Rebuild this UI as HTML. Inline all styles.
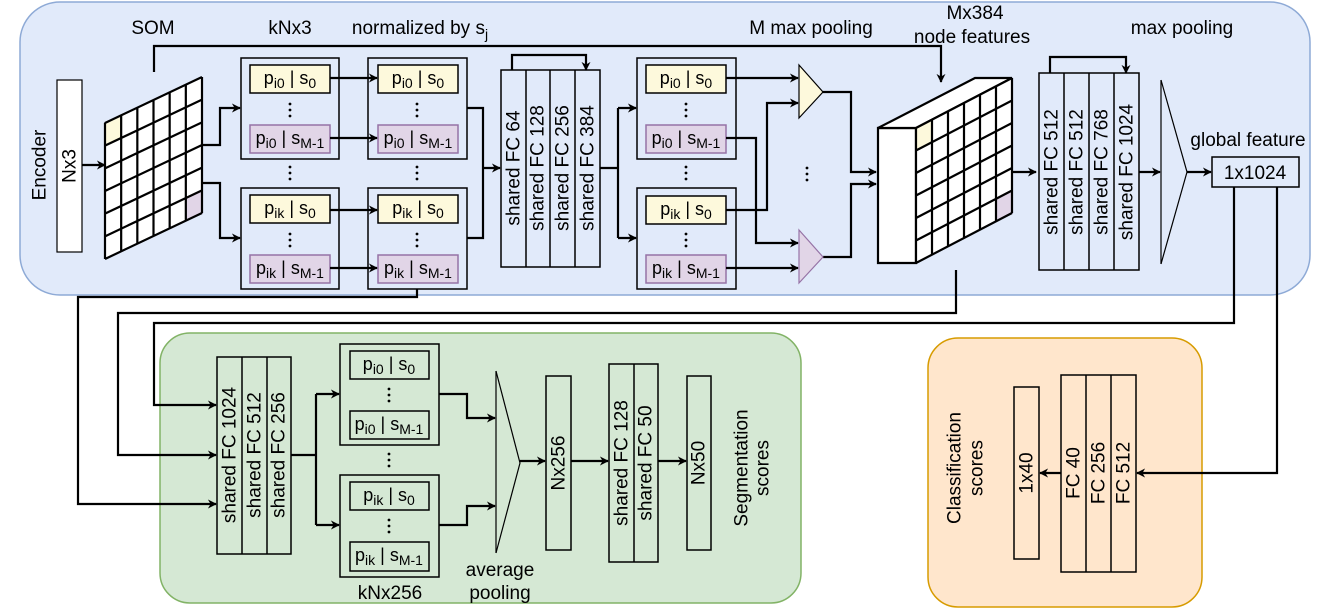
<!DOCTYPE html>
<html><head><meta charset="utf-8"><style>
html,body{margin:0;padding:0;background:#fff}
svg{display:block}
text{font-family:"Liberation Sans",Arial,sans-serif;fill:#000}
</style></head><body>
<svg width="1329" height="609" viewBox="0 0 1329 609" xmlns="http://www.w3.org/2000/svg">
<defs>
<marker id="a" viewBox="0 0 10 10" refX="9" refY="5" markerWidth="9" markerHeight="9" markerUnits="userSpaceOnUse" orient="auto">
<path d="M0,0 L10,5 L0,10 L3,5 z" fill="#000"/></marker>
</defs>
<rect x="20" y="2" width="1290" height="293" rx="40" fill="#e1eafa" stroke="#8eaad6" stroke-width="1.5"/>
<rect x="160" y="333" width="641" height="270" rx="30" fill="#d5e8d4" stroke="#82b366" stroke-width="1.5"/>
<rect x="928" y="338" width="274" height="269" rx="30" fill="#ffe6cc" stroke="#d79b00" stroke-width="1.5"/>

<g font-size="19">
<text x="153" y="34" text-anchor="middle">SOM</text>
<text x="290" y="34" text-anchor="middle">kNx3</text>
<text x="420" y="34" text-anchor="middle">normalized by s<tspan dy="5" font-size="14">j</tspan></text>
<text x="811" y="34" text-anchor="middle">M max pooling</text>
<text x="975" y="19" text-anchor="middle">Mx384</text>
<text x="972" y="43" text-anchor="middle">node features</text>
<text x="1182" y="34" text-anchor="middle">max pooling</text>
<text x="1248" y="146" text-anchor="middle">global feature</text>
<text transform="translate(40,165) rotate(-90)" text-anchor="middle" dominant-baseline="central">Encoder</text>
</g>

<g fill="none" stroke="#000" stroke-width="2.2">
<rect x="57" y="80" width="25" height="172" fill="#fff" stroke-width="1.2"/>
<line x1="82" y1="165" x2="105" y2="165" marker-end="url(#a)"/>
<polyline points="154,72 154,46 941,46 941,82" marker-end="url(#a)"/>
</g>
<text transform="translate(70,166) rotate(-90)" text-anchor="middle" dominant-baseline="central" font-size="19">Nx3</text>

<g transform="matrix(97,-46,0,136,105,123)">
<polygon points="0,0 1,0 1,1 0,1" fill="#fff"/>
<polygon points="0,0 0.1667,0 0.1667,0.1667 0,0.1667" fill="#fdf9dc" stroke="#000" stroke-width="1.5" vector-effect="non-scaling-stroke"/>
<polygon points="0.8333,0.8333 1,0.8333 1,1 0.8333,1" fill="#e1d5e7" stroke="#9673a6" stroke-width="1.5" vector-effect="non-scaling-stroke"/>
<path vector-effect="non-scaling-stroke" stroke="#000" stroke-width="2.2" fill="none" d="M0,0V1M0.1667,0V1M0.3333,0V1M0.5,0V1M0.6667,0V1M0.8333,0V1M1,0V1M0,0H1M0,0.1667H1M0,0.3333H1M0,0.5H1M0,0.6667H1M0,0.8333H1M0,1H1"/>
</g>

<g stroke="#000" stroke-width="1.5">
<rect x="241" y="58" width="98" height="101" fill="none"/>
<rect x="241" y="188" width="98" height="101" fill="none"/>
<rect x="368" y="58" width="99" height="101" fill="none"/>
<rect x="368" y="188" width="99" height="101" fill="none"/>
<rect x="637" y="58" width="99" height="101" fill="none"/>
<rect x="637" y="188" width="99" height="101" fill="none"/>
</g>
<g stroke-width="1.5">
<rect x="250" y="65" width="80" height="28" fill="#fdf9dc" stroke="#000"/>
<rect x="250" y="125" width="80" height="28" fill="#e1d5e7" stroke="#9673a6"/>
<rect x="250" y="195" width="80" height="28" fill="#fdf9dc" stroke="#000"/>
<rect x="250" y="255" width="80" height="28" fill="#e1d5e7" stroke="#9673a6"/>
<rect x="378" y="65" width="80" height="28" fill="#fdf9dc" stroke="#000"/>
<rect x="378" y="125" width="80" height="28" fill="#e1d5e7" stroke="#9673a6"/>
<rect x="378" y="195" width="80" height="28" fill="#fdf9dc" stroke="#000"/>
<rect x="378" y="255" width="80" height="28" fill="#e1d5e7" stroke="#9673a6"/>
<rect x="646" y="65" width="80" height="28" fill="#fdf9dc" stroke="#000"/>
<rect x="646" y="125" width="80" height="28" fill="#e1d5e7" stroke="#9673a6"/>
<rect x="646" y="196" width="80" height="28" fill="#fdf9dc" stroke="#000"/>
<rect x="646" y="255" width="80" height="28" fill="#e1d5e7" stroke="#9673a6"/>
</g>
<g font-size="18" text-anchor="middle">
<text x="290" y="84">p<tspan dy="4" font-size="14">i0</tspan><tspan dy="-4"> | s</tspan><tspan dy="4" font-size="14">0</tspan></text>
<text x="290" y="144">p<tspan dy="4" font-size="14">i0</tspan><tspan dy="-4"> | s</tspan><tspan dy="4" font-size="14">M-1</tspan></text>
<text x="290" y="214">p<tspan dy="4" font-size="14">ik</tspan><tspan dy="-4"> | s</tspan><tspan dy="4" font-size="14">0</tspan></text>
<text x="290" y="274">p<tspan dy="4" font-size="14">ik</tspan><tspan dy="-4"> | s</tspan><tspan dy="4" font-size="14">M-1</tspan></text>
<text x="418" y="84">p<tspan dy="4" font-size="14">i0</tspan><tspan dy="-4"> | s</tspan><tspan dy="4" font-size="14">0</tspan></text>
<text x="418" y="144">p<tspan dy="4" font-size="14">i0</tspan><tspan dy="-4"> | s</tspan><tspan dy="4" font-size="14">M-1</tspan></text>
<text x="418" y="214">p<tspan dy="4" font-size="14">ik</tspan><tspan dy="-4"> | s</tspan><tspan dy="4" font-size="14">0</tspan></text>
<text x="418" y="274">p<tspan dy="4" font-size="14">ik</tspan><tspan dy="-4"> | s</tspan><tspan dy="4" font-size="14">M-1</tspan></text>
<text x="686" y="84">p<tspan dy="4" font-size="14">i0</tspan><tspan dy="-4"> | s</tspan><tspan dy="4" font-size="14">0</tspan></text>
<text x="686" y="144">p<tspan dy="4" font-size="14">i0</tspan><tspan dy="-4"> | s</tspan><tspan dy="4" font-size="14">M-1</tspan></text>
<text x="686" y="215">p<tspan dy="4" font-size="14">ik</tspan><tspan dy="-4"> | s</tspan><tspan dy="4" font-size="14">0</tspan></text>
<text x="686" y="274">p<tspan dy="4" font-size="14">ik</tspan><tspan dy="-4"> | s</tspan><tspan dy="4" font-size="14">M-1</tspan></text>
</g>
<g fill="#000">
<circle cx="290" cy="104" r="1.4"/><circle cx="290" cy="110" r="1.4"/><circle cx="290" cy="116" r="1.4"/>
<circle cx="290" cy="234" r="1.4"/><circle cx="290" cy="240" r="1.4"/><circle cx="290" cy="246" r="1.4"/>
<circle cx="290" cy="167" r="1.4"/><circle cx="290" cy="173" r="1.4"/><circle cx="290" cy="179" r="1.4"/>
<circle cx="417" cy="104" r="1.4"/><circle cx="417" cy="110" r="1.4"/><circle cx="417" cy="116" r="1.4"/>
<circle cx="417" cy="234" r="1.4"/><circle cx="417" cy="240" r="1.4"/><circle cx="417" cy="246" r="1.4"/>
<circle cx="417" cy="167" r="1.4"/><circle cx="417" cy="173" r="1.4"/><circle cx="417" cy="179" r="1.4"/>
<circle cx="686" cy="104" r="1.4"/><circle cx="686" cy="110" r="1.4"/><circle cx="686" cy="116" r="1.4"/>
<circle cx="686" cy="234" r="1.4"/><circle cx="686" cy="240" r="1.4"/><circle cx="686" cy="246" r="1.4"/>
<circle cx="686" cy="167" r="1.4"/><circle cx="686" cy="173" r="1.4"/><circle cx="686" cy="179" r="1.4"/>
<circle cx="807" cy="168" r="1.4"/><circle cx="807" cy="174" r="1.4"/><circle cx="807" cy="180" r="1.4"/>
</g>

<g fill="none" stroke="#000" stroke-width="2.2">
<polyline points="202,145 220,145 220,108 240,108" marker-end="url(#a)"/>
<polyline points="202,183 220,183 220,238 240,238" marker-end="url(#a)"/>
<line x1="330" y1="78" x2="377" y2="78" marker-end="url(#a)"/>
<line x1="330" y1="138" x2="377" y2="138" marker-end="url(#a)"/>
<line x1="330" y1="210" x2="377" y2="210" marker-end="url(#a)"/>
<line x1="330" y1="268" x2="377" y2="268" marker-end="url(#a)"/>
<polyline points="467,108 483,108 483,238 467,238"/>
<line x1="483" y1="168" x2="500" y2="168" marker-end="url(#a)"/>
<polyline points="512,70 512,55 586,55 586,70" marker-end="url(#a)"/>
<line x1="600" y1="168" x2="618" y2="168"/>
<polyline points="618,108 618,238"/>
<line x1="618" y1="108" x2="636" y2="108" marker-end="url(#a)"/>
<line x1="618" y1="238" x2="636" y2="238" marker-end="url(#a)"/>
<line x1="726" y1="78" x2="798" y2="78" marker-end="url(#a)"/>
<polyline points="726,210 767,210 767,103 798,103" marker-end="url(#a)"/>
<polyline points="726,138 756,138 756,243 798,243" marker-end="url(#a)"/>
<line x1="726" y1="268" x2="798" y2="268" marker-end="url(#a)"/>
<polyline points="823,92 851,92 851,172 876,172" marker-end="url(#a)"/>
<polyline points="823,257 851,257 851,184 876,184" marker-end="url(#a)"/>
<line x1="1012" y1="172" x2="1036" y2="172" marker-end="url(#a)"/>
<polyline points="1050,73 1050,57 1126,57 1126,73" marker-end="url(#a)"/>
<line x1="1139" y1="172" x2="1160" y2="172" marker-end="url(#a)"/>
<line x1="1187" y1="172" x2="1211" y2="172" marker-end="url(#a)"/>
<polyline points="417,289 417,297 78,297 78,504 216,504" marker-end="url(#a)"/>
<polyline points="956,270 956,313 118,313 118,455 216,455" marker-end="url(#a)"/>
<polyline points="1234,187 1234,323 154,323 154,405 216,405" marker-end="url(#a)"/>
<polyline points="1277,187 1277,473 1137,473" marker-end="url(#a)"/>
</g>

<g stroke="#000" stroke-width="1.5" fill="none">
<rect x="501" y="70" width="99" height="197"/>
<line x1="526" y1="70" x2="526" y2="267"/><line x1="550" y1="70" x2="550" y2="267"/><line x1="575" y1="70" x2="575" y2="267"/>
</g>
<g font-size="19" text-anchor="middle" dominant-baseline="central">
<text transform="translate(514,168) rotate(-90)">shared FC 64</text>
<text transform="translate(538,168) rotate(-90)">shared FC 128</text>
<text transform="translate(563,168) rotate(-90)">shared FC 256</text>
<text transform="translate(588,168) rotate(-90)">shared FC 384</text>
</g>

<polygon points="799,65 823,92 799,118" fill="#fdf9dc" stroke="#000" stroke-width="1.2"/>
<polygon points="799,230 823,257 799,283" fill="#e1d5e7" stroke="#9673a6" stroke-width="1.2"/>

<polygon points="878,128 916,128 916,263 878,263" fill="#fff" stroke="#000" stroke-width="2.2"/>
<polygon points="878,128 975,78 1012,78 916,128" fill="#fff" stroke="#000" stroke-width="2.2"/>
<g transform="matrix(96,-50,0,135,916,128)">
<polygon points="0,0 1,0 1,1 0,1" fill="#fff"/>
<polygon points="0,0 0.1667,0 0.1667,0.1667 0,0.1667" fill="#fdf9dc" stroke="#000" stroke-width="1.5" vector-effect="non-scaling-stroke"/>
<polygon points="0.8333,0.8333 1,0.8333 1,1 0.8333,1" fill="#e1d5e7" stroke="#9673a6" stroke-width="1.5" vector-effect="non-scaling-stroke"/>
<path vector-effect="non-scaling-stroke" stroke="#000" stroke-width="2.2" fill="none" d="M0,0V1M0.1667,0V1M0.3333,0V1M0.5,0V1M0.6667,0V1M0.8333,0V1M1,0V1M0,0H1M0,0.1667H1M0,0.3333H1M0,0.5H1M0,0.6667H1M0,0.8333H1M0,1H1"/>
</g>

<g stroke="#000" stroke-width="1.5" fill="none">
<rect x="1039" y="73" width="100" height="197"/>
<line x1="1064" y1="73" x2="1064" y2="270"/><line x1="1089" y1="73" x2="1089" y2="270"/><line x1="1114" y1="73" x2="1114" y2="270"/>
</g>
<g font-size="19" text-anchor="middle" dominant-baseline="central">
<text transform="translate(1052,172) rotate(-90)">shared FC 512</text>
<text transform="translate(1077,172) rotate(-90)">shared FC 512</text>
<text transform="translate(1102,172) rotate(-90)">shared FC 768</text>
<text transform="translate(1127,172) rotate(-90)">shared FC 1024</text>
</g>
<polyline points="1161,80 1187,172 1161,264" fill="none" stroke="#000" stroke-width="1.2"/>
<line x1="1161" y1="80" x2="1161" y2="264" stroke="#000" stroke-width="1.2"/>
<rect x="1212" y="157" width="87" height="30" fill="none" stroke="#000" stroke-width="1.5"/>
<text x="1255" y="179" font-size="19" text-anchor="middle">1x1024</text>

<g stroke="#000" stroke-width="1.5" fill="none">
<rect x="217" y="357" width="74" height="197"/>
<line x1="242" y1="357" x2="242" y2="554"/><line x1="267" y1="357" x2="267" y2="554"/>
<rect x="340" y="344" width="99" height="101"/>
<rect x="340" y="475" width="99" height="102"/>
<rect x="350" y="351" width="79" height="28"/>
<rect x="350" y="411" width="79" height="28"/>
<rect x="350" y="482" width="79" height="28"/>
<rect x="350" y="542" width="79" height="29"/>
<rect x="546" y="376" width="25" height="174"/>
<rect x="609" y="364" width="49" height="198"/>
<line x1="634" y1="364" x2="634" y2="562"/>
<rect x="687" y="376" width="24" height="174"/>
</g>
<polyline points="496,371 520,463 496,553" fill="none" stroke="#000" stroke-width="1.2"/>
<line x1="496" y1="371" x2="496" y2="553" stroke="#000" stroke-width="1.2"/>
<g font-size="19" text-anchor="middle" dominant-baseline="central">
<text transform="translate(230,455) rotate(-90)">shared FC 1024</text>
<text transform="translate(255,455) rotate(-90)">shared FC 512</text>
<text transform="translate(279,455) rotate(-90)">shared FC 256</text>
<text transform="translate(559,463) rotate(-90)">Nx256</text>
<text transform="translate(622,463) rotate(-90)">shared FC 128</text>
<text transform="translate(646,463) rotate(-90)">shared FC 50</text>
<text transform="translate(699,463) rotate(-90)">Nx50</text>
<text transform="translate(742,468) rotate(-90)">Segmentation</text>
<text transform="translate(763,468) rotate(-90)">scores</text>
</g>
<g font-size="18" text-anchor="middle">
<text x="389" y="370">p<tspan dy="4" font-size="14">i0</tspan><tspan dy="-4"> | s</tspan><tspan dy="4" font-size="14">0</tspan></text>
<text x="389" y="430">p<tspan dy="4" font-size="14">i0</tspan><tspan dy="-4"> | s</tspan><tspan dy="4" font-size="14">M-1</tspan></text>
<text x="389" y="501">p<tspan dy="4" font-size="14">ik</tspan><tspan dy="-4"> | s</tspan><tspan dy="4" font-size="14">0</tspan></text>
<text x="389" y="561">p<tspan dy="4" font-size="14">ik</tspan><tspan dy="-4"> | s</tspan><tspan dy="4" font-size="14">M-1</tspan></text>
</g>
<g font-size="19" text-anchor="middle">
<text x="390" y="599">kNx256</text>
<text x="500" y="576">average</text>
<text x="500" y="599">pooling</text>
</g>
<g fill="#000">
<circle cx="389" cy="389" r="1.4"/><circle cx="389" cy="395" r="1.4"/><circle cx="389" cy="401" r="1.4"/>
<circle cx="389" cy="454" r="1.4"/><circle cx="389" cy="460" r="1.4"/><circle cx="389" cy="466" r="1.4"/>
<circle cx="389" cy="520" r="1.4"/><circle cx="389" cy="526" r="1.4"/><circle cx="389" cy="532" r="1.4"/>
</g>
<g fill="none" stroke="#000" stroke-width="2.2">
<line x1="291" y1="455" x2="316" y2="455"/>
<polyline points="316,394 316,525"/>
<line x1="316" y1="394" x2="339" y2="394" marker-end="url(#a)"/>
<line x1="316" y1="525" x2="339" y2="525" marker-end="url(#a)"/>
<polyline points="439,394 467,394 467,418 495,418" marker-end="url(#a)"/>
<polyline points="439,525 467,525 467,506 495,506" marker-end="url(#a)"/>
<line x1="520" y1="461" x2="545" y2="461" marker-end="url(#a)"/>
<line x1="571" y1="461" x2="608" y2="461" marker-end="url(#a)"/>
<line x1="658" y1="461" x2="686" y2="461" marker-end="url(#a)"/>
<line x1="1061" y1="473" x2="1040" y2="473" marker-end="url(#a)"/>
</g>

<g stroke="#000" stroke-width="1.5" fill="none">
<rect x="1014" y="387" width="25" height="172"/>
<rect x="1061" y="375" width="75" height="197"/>
<line x1="1086" y1="375" x2="1086" y2="572"/><line x1="1111" y1="375" x2="1111" y2="572"/>
</g>
<g font-size="19" text-anchor="middle" dominant-baseline="central">
<text transform="translate(1027,473) rotate(-90)">1x40</text>
<text transform="translate(1074,473) rotate(-90)">FC 40</text>
<text transform="translate(1099,473) rotate(-90)">FC 256</text>
<text transform="translate(1124,473) rotate(-90)">FC 512</text>
<text transform="translate(955,468) rotate(-90)">Classification</text>
<text transform="translate(977,468) rotate(-90)">scores</text>
</g>
</svg>
</body></html>
